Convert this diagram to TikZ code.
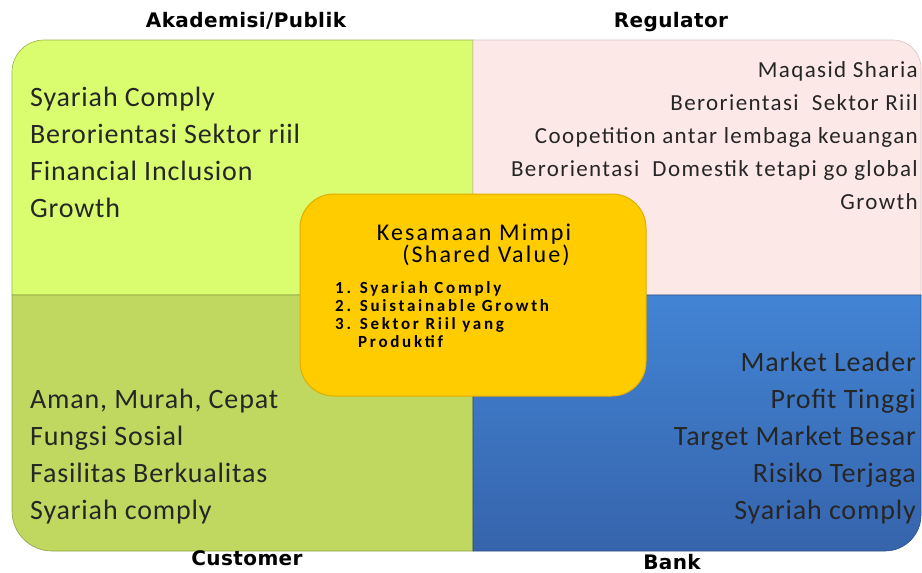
\documentclass[tikz,border=0pt]{standalone}
\usepackage{fontspec}
\setmainfont{Carlito}
\newfontfamily\headfont{DejaVu Sans}
\usetikzlibrary{positioning}

\definecolor{akagreen}{RGB}{217,253,110}
\definecolor{cusgreen}{RGB}{192,216,96}
\definecolor{regpink}{RGB}{253,232,232}
\definecolor{bankblue}{RGB}{66,132,212}
\definecolor{bankdark}{RGB}{54,100,172}
\definecolor{dreamyellow}{RGB}{255,204,0}
\definecolor{dreamedge}{RGB}{226,172,0}

\tikzset{
  head/.style={font=\headfont\bfseries\fontsize{20}{22}\selectfont\addfontfeature{LetterSpace=2},anchor=base},
  item/.style={font=\fontsize{28}{30}\selectfont\addfontfeature{LetterSpace=3},text=black!85,inner sep=0pt},
  regitem/.style={font=\fontsize{23}{25}\selectfont\addfontfeature{LetterSpace=6},text=black!85,inner sep=0pt,anchor=base east},
  dreamtitle/.style={font=\fontsize{24}{24}\selectfont\addfontfeature{LetterSpace=9},anchor=base,inner sep=0pt},
  dreamlist/.style={font=\bfseries\fontsize{17}{18}\selectfont\addfontfeature{LetterSpace=16},inner sep=0pt,align=left}
}

\begin{document}
\begin{tikzpicture}[x=1pt,y=-1pt]
\useasboundingbox (0,0) rectangle (922,573);
% quadrants
\filldraw[fill=akagreen,draw=akagreen!70!black,line width=0.6pt]
  (473,295) -- (12,295) [rounded corners=32] -- (12,40) [sharp corners] -- (473,40) -- cycle;
\filldraw[fill=regpink,draw=regpink!85!black,line width=0.6pt]
  (473,295) -- (473,40) [rounded corners=28] -- (921,40) [sharp corners] -- (921,295) -- cycle;
\filldraw[fill=cusgreen,draw=cusgreen!75!black,line width=0.6pt]
  (473,295) -- (12,295) [rounded corners=40] -- (12,551) [sharp corners] -- (473,551) -- cycle;
\shade[top color=bankblue,bottom color=bankdark]
  (473,295) -- (921,295) [rounded corners=36] -- (921,551) [sharp corners] -- (473,551) -- cycle;
\draw[bankdark!80!black,line width=0.6pt]
  (473,295) -- (921,295) [rounded corners=36] -- (921,551) [sharp corners] -- (473,551) -- cycle;

% group titles
\node[head] (akademisi) at (246,27) {Akademisi/Publik};
\node[head] (regulator) at (671,27) {Regulator};
\node[head] (customer) at (247,565) {Customer};
\node[head] (bank) at (672,569) {Bank};

% akademisi
\foreach \t [count=\i] in {Syariah Comply, Berorientasi Sektor riil, Financial Inclusion, Growth}
  \node[item,anchor=base west] (aka\i) at (30,69+37*\i) {\t};
% regulator
\foreach \t [count=\i] in {Maqasid Sharia, Berorientasi~~Sektor Riil, Coopetition antar lembaga keuangan,
    Berorientasi~~Domestik tetapi go global, Growth}
  \node[regitem] (reg\i) at (918,44+33*\i) {\t};
% customer
\foreach \t [count=\i] in {{Aman, Murah, Cepat}, Fungsi Sosial, Fasilitas Berkualitas, Syariah comply}
  \node[item,anchor=base west] (cus\i) at (30,371+37*\i) {\t};
% bank
\foreach \t [count=\i] in {Market Leader, Profit Tinggi, Target Market Besar, Risiko Terjaga, Syariah comply}
  \node[item,anchor=base east] (bank\i) at (916,334+37*\i) {\t};

% shared value
\filldraw[fill=dreamyellow,draw=dreamedge,line width=1pt,rounded corners=34]
  (300,194) rectangle (646,396);
\node[dreamtitle] (mimpi) at (474,240) {Kesamaan Mimpi};
\node[dreamtitle] (shared) at (486,262) {(Shared Value)};
\node[dreamlist,anchor=north west] (svlist) at (335,281)
  {1. Syariah Comply\\2. Suistainable Growth\\3. Sektor Riil yang\\\hspace*{23pt}Produktif};
\end{tikzpicture}
\end{document}
